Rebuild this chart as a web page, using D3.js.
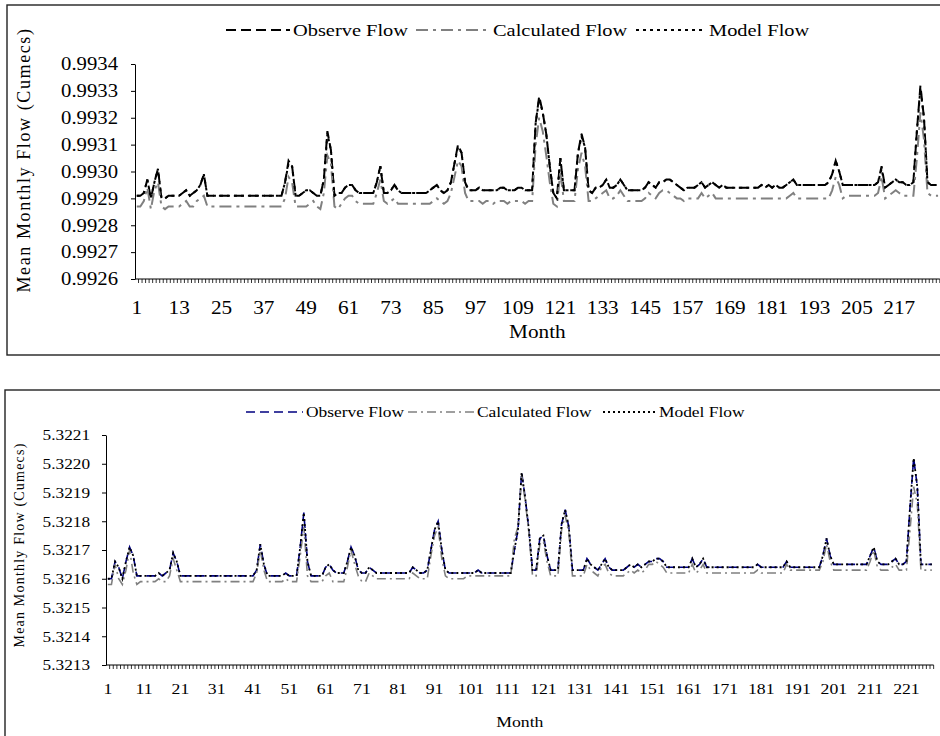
<!DOCTYPE html>
<html>
<head>
<meta charset="utf-8">
<script src="https://cdn.jsdelivr.net/npm/d3@7"></script>
<style>
  body { margin: 0; background: #fff; }
  svg { display: block; }
</style>
</head>
<body>
<svg id="chart" width="940" height="736"></svg>
<script>
// ---- data --------------------------------------------------------------
const months = d3.range(1, 229);   // 228 monthly categories

const topXTicks = [1, 13, 25, 37, 49, 61, 73, 85, 97, 109, 121, 133, 145, 157, 169, 181, 193, 205, 217];
const topYTicks = [0.9926, 0.9927, 0.9928, 0.9929, 0.9930, 0.9931, 0.9932, 0.9933, 0.9934];
const botXTicks = [1, 11, 21, 31, 41, 51, 61, 71, 81, 91, 101, 111, 121, 131, 141, 151, 161, 171, 181, 191, 201, 211, 221];
const botYTicks = [5.3213, 5.3214, 5.3215, 5.3216, 5.3217, 5.3218, 5.3219, 5.3220, 5.3221];

const legendNames = ["Observe Flow", "Calculated Flow", "Model Flow"];

// upper panel
const topObserve = [
  0.99291,0.99291,0.99292,0.99297,0.99290,0.99296,0.99301,0.99290,0.99290,0.99291,0.99291,0.99291,
  0.99291,0.99292,0.99293,0.99291,0.99292,0.99293,0.99295,0.99299,0.99291,0.99291,0.99291,0.99291,
  0.99291,0.99291,0.99291,0.99291,0.99291,0.99291,0.99291,0.99291,0.99291,0.99291,0.99291,0.99291,
  0.99291,0.99291,0.99291,0.99291,0.99291,0.99291,0.99296,0.99304,0.99302,0.99291,0.99291,0.99292,
  0.99293,0.99293,0.99292,0.99291,0.99291,0.99297,0.99315,0.99308,0.99291,0.99292,0.99292,0.99294,
  0.99295,0.99295,0.99293,0.99292,0.99292,0.99292,0.99292,0.99292,0.99296,0.99302,0.99292,0.99292,
  0.99293,0.99295,0.99293,0.99292,0.99292,0.99292,0.99292,0.99292,0.99292,0.99292,0.99292,0.99293,
  0.99294,0.99295,0.99293,0.99292,0.99293,0.99296,0.99303,0.99310,0.99307,0.99296,0.99293,0.99293,
  0.99293,0.99294,0.99293,0.99293,0.99293,0.99293,0.99293,0.99294,0.99294,0.99293,0.99293,0.99293,
  0.99294,0.99294,0.99293,0.99293,0.99293,0.99318,0.99328,0.99322,0.99314,0.99302,0.99292,0.99290,
  0.99305,0.99293,0.99293,0.99293,0.99293,0.99307,0.99314,0.99309,0.99293,0.99292,0.99294,0.99294,
  0.99295,0.99297,0.99294,0.99294,0.99295,0.99297,0.99295,0.99293,0.99293,0.99293,0.99293,0.99293,
  0.99294,0.99296,0.99295,0.99294,0.99296,0.99296,0.99297,0.99297,0.99296,0.99295,0.99294,0.99293,
  0.99294,0.99294,0.99294,0.99295,0.99296,0.99294,0.99295,0.99296,0.99295,0.99294,0.99295,0.99294,
  0.99294,0.99294,0.99294,0.99294,0.99294,0.99294,0.99294,0.99294,0.99294,0.99295,0.99294,0.99295,
  0.99294,0.99295,0.99294,0.99294,0.99295,0.99296,0.99297,0.99295,0.99295,0.99295,0.99295,0.99295,
  0.99295,0.99295,0.99295,0.99295,0.99296,0.99299,0.99304,0.99300,0.99295,0.99295,0.99295,0.99295,
  0.99295,0.99295,0.99295,0.99295,0.99295,0.99295,0.99296,0.99302,0.99294,0.99295,0.99296,0.99297,
  0.99296,0.99296,0.99295,0.99295,0.99296,0.99315,0.99332,0.99320,0.99296,0.99295,0.99295,0.99295
];
const topCalculated = [
  0.99287,0.99287,0.99289,0.99294,0.99286,0.99293,0.99296,0.99287,0.99286,0.99287,0.99287,0.99287,
  0.99287,0.99288,0.99289,0.99287,0.99287,0.99289,0.99290,0.99291,0.99287,0.99287,0.99287,0.99287,
  0.99287,0.99287,0.99287,0.99287,0.99287,0.99287,0.99287,0.99287,0.99287,0.99287,0.99287,0.99287,
  0.99287,0.99287,0.99287,0.99287,0.99287,0.99287,0.99290,0.99298,0.99296,0.99287,0.99287,0.99287,
  0.99287,0.99288,0.99289,0.99287,0.99286,0.99292,0.99306,0.99303,0.99287,0.99286,0.99288,0.99290,
  0.99291,0.99291,0.99289,0.99288,0.99288,0.99288,0.99288,0.99288,0.99292,0.99297,0.99289,0.99288,
  0.99289,0.99290,0.99288,0.99288,0.99288,0.99288,0.99288,0.99288,0.99288,0.99288,0.99288,0.99288,
  0.99289,0.99290,0.99289,0.99288,0.99289,0.99292,0.99298,0.99304,0.99302,0.99292,0.99289,0.99289,
  0.99289,0.99289,0.99288,0.99289,0.99289,0.99288,0.99289,0.99289,0.99289,0.99288,0.99289,0.99289,
  0.99289,0.99289,0.99288,0.99289,0.99289,0.99310,0.99320,0.99315,0.99306,0.99296,0.99288,0.99287,
  0.99300,0.99289,0.99289,0.99289,0.99289,0.99301,0.99307,0.99302,0.99289,0.99289,0.99290,0.99291,
  0.99292,0.99293,0.99290,0.99290,0.99291,0.99293,0.99291,0.99289,0.99289,0.99289,0.99289,0.99289,
  0.99290,0.99292,0.99291,0.99290,0.99292,0.99293,0.99293,0.99292,0.99291,0.99290,0.99290,0.99289,
  0.99290,0.99290,0.99290,0.99290,0.99292,0.99290,0.99291,0.99292,0.99290,0.99290,0.99290,0.99290,
  0.99290,0.99290,0.99290,0.99290,0.99290,0.99290,0.99290,0.99290,0.99290,0.99290,0.99290,0.99290,
  0.99290,0.99290,0.99290,0.99290,0.99290,0.99291,0.99292,0.99290,0.99290,0.99290,0.99290,0.99290,
  0.99290,0.99290,0.99290,0.99290,0.99290,0.99293,0.99298,0.99295,0.99290,0.99291,0.99291,0.99291,
  0.99291,0.99291,0.99291,0.99291,0.99291,0.99291,0.99292,0.99298,0.99290,0.99291,0.99292,0.99293,
  0.99292,0.99291,0.99291,0.99291,0.99291,0.99305,0.99322,0.99312,0.99292,0.99291,0.99291,0.99291
];
const topModel = [
  0.99291,0.99291,0.99292,0.99297,0.99290,0.99296,0.99301,0.99290,0.99290,0.99291,0.99291,0.99291,
  0.99291,0.99292,0.99293,0.99291,0.99292,0.99293,0.99295,0.99299,0.99291,0.99291,0.99291,0.99291,
  0.99291,0.99291,0.99291,0.99291,0.99291,0.99291,0.99291,0.99291,0.99291,0.99291,0.99291,0.99291,
  0.99291,0.99291,0.99291,0.99291,0.99291,0.99291,0.99296,0.99303,0.99302,0.99291,0.99291,0.99292,
  0.99293,0.99293,0.99292,0.99291,0.99291,0.99297,0.99314,0.99308,0.99291,0.99292,0.99292,0.99294,
  0.99295,0.99295,0.99293,0.99292,0.99292,0.99292,0.99292,0.99292,0.99296,0.99302,0.99292,0.99292,
  0.99293,0.99295,0.99293,0.99292,0.99292,0.99292,0.99292,0.99292,0.99292,0.99292,0.99292,0.99293,
  0.99294,0.99295,0.99293,0.99292,0.99293,0.99296,0.99303,0.99309,0.99307,0.99296,0.99293,0.99293,
  0.99293,0.99294,0.99293,0.99293,0.99293,0.99293,0.99293,0.99294,0.99294,0.99293,0.99293,0.99293,
  0.99294,0.99294,0.99293,0.99293,0.99293,0.99318,0.99327,0.99322,0.99314,0.99302,0.99292,0.99290,
  0.99305,0.99293,0.99293,0.99293,0.99293,0.99307,0.99313,0.99309,0.99293,0.99292,0.99294,0.99294,
  0.99295,0.99297,0.99294,0.99294,0.99295,0.99297,0.99295,0.99293,0.99293,0.99293,0.99293,0.99293,
  0.99294,0.99296,0.99295,0.99294,0.99296,0.99296,0.99297,0.99297,0.99296,0.99295,0.99294,0.99293,
  0.99294,0.99294,0.99294,0.99295,0.99296,0.99294,0.99295,0.99296,0.99295,0.99294,0.99295,0.99294,
  0.99294,0.99294,0.99294,0.99294,0.99294,0.99294,0.99294,0.99294,0.99294,0.99295,0.99294,0.99295,
  0.99294,0.99295,0.99294,0.99294,0.99295,0.99296,0.99297,0.99295,0.99295,0.99295,0.99295,0.99295,
  0.99295,0.99295,0.99295,0.99295,0.99296,0.99299,0.99304,0.99300,0.99295,0.99295,0.99295,0.99295,
  0.99295,0.99295,0.99295,0.99295,0.99295,0.99295,0.99296,0.99301,0.99294,0.99295,0.99296,0.99297,
  0.99296,0.99296,0.99295,0.99295,0.99296,0.99315,0.99331,0.99320,0.99296,0.99295,0.99295,0.99295
];

// lower panel
const botObserve = [
  5.32160,5.32160,5.32166,5.32164,5.32160,5.32166,5.32171,5.32168,5.32161,5.32161,5.32161,5.32161,
  5.32161,5.32161,5.32162,5.32161,5.32162,5.32163,5.32169,5.32166,5.32161,5.32161,5.32161,5.32161,
  5.32161,5.32161,5.32161,5.32161,5.32161,5.32161,5.32161,5.32161,5.32161,5.32161,5.32161,5.32161,
  5.32161,5.32161,5.32161,5.32161,5.32161,5.32163,5.32172,5.32165,5.32161,5.32161,5.32161,5.32161,
  5.32161,5.32162,5.32161,5.32161,5.32161,5.32171,5.32183,5.32166,5.32161,5.32161,5.32161,5.32161,
  5.32164,5.32165,5.32163,5.32162,5.32162,5.32162,5.32166,5.32171,5.32168,5.32163,5.32162,5.32162,
  5.32164,5.32163,5.32162,5.32162,5.32162,5.32162,5.32162,5.32162,5.32162,5.32162,5.32162,5.32162,
  5.32164,5.32163,5.32162,5.32162,5.32163,5.32170,5.32177,5.32180,5.32170,5.32163,5.32162,5.32162,
  5.32162,5.32162,5.32162,5.32162,5.32162,5.32162,5.32163,5.32162,5.32162,5.32162,5.32162,5.32162,
  5.32162,5.32162,5.32162,5.32162,5.32170,5.32177,5.32197,5.32188,5.32177,5.32163,5.32163,5.32174,
  5.32175,5.32168,5.32163,5.32163,5.32163,5.32179,5.32184,5.32178,5.32163,5.32163,5.32163,5.32163,
  5.32167,5.32165,5.32164,5.32163,5.32165,5.32167,5.32164,5.32163,5.32163,5.32163,5.32163,5.32164,
  5.32165,5.32164,5.32165,5.32164,5.32165,5.32166,5.32166,5.32167,5.32167,5.32166,5.32164,5.32164,
  5.32164,5.32164,5.32164,5.32164,5.32164,5.32167,5.32164,5.32165,5.32167,5.32164,5.32164,5.32164,
  5.32164,5.32164,5.32164,5.32164,5.32164,5.32164,5.32164,5.32164,5.32164,5.32164,5.32164,5.32165,
  5.32164,5.32164,5.32164,5.32164,5.32164,5.32164,5.32164,5.32166,5.32164,5.32164,5.32164,5.32164,
  5.32164,5.32164,5.32164,5.32164,5.32164,5.32168,5.32174,5.32168,5.32165,5.32165,5.32165,5.32165,
  5.32165,5.32165,5.32165,5.32165,5.32165,5.32165,5.32168,5.32171,5.32166,5.32165,5.32165,5.32165,
  5.32166,5.32167,5.32165,5.32165,5.32166,5.32185,5.32202,5.32192,5.32165,5.32165,5.32165,5.32165
];
const botCalculated = [
  5.32158,5.32158,5.32165,5.32160,5.32158,5.32163,5.32170,5.32162,5.32158,5.32159,5.32159,5.32159,
  5.32159,5.32159,5.32160,5.32159,5.32159,5.32161,5.32167,5.32163,5.32159,5.32159,5.32159,5.32159,
  5.32159,5.32159,5.32159,5.32159,5.32159,5.32159,5.32159,5.32159,5.32159,5.32159,5.32159,5.32159,
  5.32159,5.32159,5.32159,5.32159,5.32159,5.32162,5.32170,5.32163,5.32159,5.32159,5.32159,5.32159,
  5.32159,5.32160,5.32159,5.32159,5.32159,5.32168,5.32178,5.32161,5.32159,5.32159,5.32159,5.32159,
  5.32161,5.32162,5.32159,5.32159,5.32159,5.32159,5.32164,5.32170,5.32165,5.32161,5.32159,5.32159,
  5.32162,5.32161,5.32160,5.32160,5.32160,5.32160,5.32160,5.32160,5.32160,5.32160,5.32160,5.32160,
  5.32162,5.32161,5.32160,5.32160,5.32160,5.32168,5.32175,5.32178,5.32167,5.32161,5.32160,5.32160,
  5.32160,5.32160,5.32160,5.32161,5.32161,5.32161,5.32161,5.32161,5.32161,5.32161,5.32161,5.32161,
  5.32161,5.32161,5.32161,5.32161,5.32174,5.32178,5.32196,5.32187,5.32176,5.32161,5.32161,5.32172,
  5.32173,5.32166,5.32161,5.32161,5.32161,5.32177,5.32182,5.32176,5.32161,5.32161,5.32161,5.32161,
  5.32165,5.32163,5.32162,5.32161,5.32164,5.32165,5.32162,5.32161,5.32161,5.32161,5.32161,5.32162,
  5.32163,5.32162,5.32163,5.32162,5.32163,5.32165,5.32165,5.32166,5.32165,5.32164,5.32162,5.32162,
  5.32162,5.32162,5.32162,5.32162,5.32162,5.32165,5.32162,5.32163,5.32165,5.32162,5.32162,5.32162,
  5.32162,5.32162,5.32162,5.32162,5.32162,5.32162,5.32162,5.32162,5.32162,5.32162,5.32162,5.32163,
  5.32162,5.32162,5.32162,5.32162,5.32162,5.32162,5.32162,5.32165,5.32163,5.32163,5.32163,5.32163,
  5.32163,5.32163,5.32163,5.32163,5.32163,5.32166,5.32172,5.32166,5.32163,5.32163,5.32163,5.32163,
  5.32163,5.32163,5.32163,5.32163,5.32163,5.32163,5.32166,5.32170,5.32164,5.32163,5.32163,5.32163,
  5.32164,5.32165,5.32163,5.32163,5.32163,5.32177,5.32192,5.32186,5.32163,5.32163,5.32163,5.32163
];
const botModel = [
  5.32160,5.32160,5.32166,5.32164,5.32160,5.32166,5.32171,5.32168,5.32161,5.32161,5.32161,5.32161,
  5.32161,5.32161,5.32162,5.32161,5.32162,5.32163,5.32169,5.32166,5.32161,5.32161,5.32161,5.32161,
  5.32161,5.32161,5.32161,5.32161,5.32161,5.32161,5.32161,5.32161,5.32161,5.32161,5.32161,5.32161,
  5.32161,5.32161,5.32161,5.32161,5.32161,5.32163,5.32172,5.32165,5.32161,5.32161,5.32161,5.32161,
  5.32161,5.32162,5.32161,5.32161,5.32161,5.32171,5.32183,5.32166,5.32161,5.32161,5.32161,5.32161,
  5.32164,5.32165,5.32163,5.32162,5.32162,5.32162,5.32166,5.32171,5.32168,5.32163,5.32162,5.32162,
  5.32164,5.32163,5.32162,5.32162,5.32162,5.32162,5.32162,5.32162,5.32162,5.32162,5.32162,5.32162,
  5.32164,5.32163,5.32162,5.32162,5.32163,5.32170,5.32177,5.32180,5.32170,5.32163,5.32162,5.32162,
  5.32162,5.32162,5.32162,5.32162,5.32162,5.32162,5.32163,5.32162,5.32162,5.32162,5.32162,5.32162,
  5.32162,5.32162,5.32162,5.32162,5.32170,5.32177,5.32197,5.32188,5.32177,5.32163,5.32163,5.32174,
  5.32175,5.32168,5.32163,5.32163,5.32163,5.32179,5.32184,5.32178,5.32163,5.32163,5.32163,5.32163,
  5.32167,5.32165,5.32164,5.32163,5.32165,5.32167,5.32164,5.32163,5.32163,5.32163,5.32163,5.32164,
  5.32165,5.32164,5.32165,5.32164,5.32165,5.32166,5.32166,5.32167,5.32167,5.32166,5.32164,5.32164,
  5.32164,5.32164,5.32164,5.32164,5.32164,5.32167,5.32164,5.32165,5.32167,5.32164,5.32164,5.32164,
  5.32164,5.32164,5.32164,5.32164,5.32164,5.32164,5.32164,5.32164,5.32164,5.32164,5.32164,5.32165,
  5.32164,5.32164,5.32164,5.32164,5.32164,5.32164,5.32164,5.32166,5.32164,5.32164,5.32164,5.32164,
  5.32164,5.32164,5.32164,5.32164,5.32164,5.32168,5.32174,5.32168,5.32165,5.32165,5.32165,5.32165,
  5.32165,5.32165,5.32165,5.32165,5.32165,5.32165,5.32168,5.32171,5.32166,5.32165,5.32165,5.32165,
  5.32166,5.32167,5.32165,5.32165,5.32166,5.32185,5.32202,5.32192,5.32165,5.32165,5.32165,5.32165
];

// ---- drawing -----------------------------------------------------------
const FONT = "'Liberation Serif', 'Times New Roman', serif";
const svg = d3.select("#chart");

// the source picture is a little wider than tall, so text is widened to match
function stretch(sel, k) {
  sel.each(function () {
    const w = this.getComputedTextLength();
    d3.select(this).attr("textLength", w * k).attr("lengthAdjust", "spacingAndGlyphs");
  });
}

function drawPanel(p) {
  const g = svg.append("g");

  g.append("rect")
    .attr("x", p.box[0]).attr("y", p.box[1])
    .attr("width", p.box[2]).attr("height", p.box[3])
    .attr("fill", "none").attr("stroke", "#222").attr("stroke-width", 1.4);

  const x = d3.scaleBand()
    .domain(months)
    .range([p.x0, p.x0 + months.length * p.step]);
  const y = d3.scaleLinear()
    .domain([p.yTicks[0], p.yTicks[p.yTicks.length - 1]])
    .range([p.yBottom, p.yTop]);

  // y axis
  const ya = g.append("g")
    .attr("transform", "translate(" + p.x0 + ",0)")
    .call(d3.axisLeft(y).tickValues(p.yTicks).tickFormat(d3.format(".4f"))
      .tickSize(4).tickSizeOuter(0).tickPadding(p.yPad));
  ya.attr("font-family", FONT).attr("font-size", p.tickFont);
  ya.selectAll("line, path").attr("stroke", "#000");
  ya.selectAll("text").attr("fill", "#000").call(stretch, 1.15);

  // x axis: line, a tick between every month, labels at chosen months
  g.append("line")
    .attr("x1", p.x0).attr("x2", x.range()[1])
    .attr("y1", p.yBottom).attr("y2", p.yBottom)
    .attr("stroke", "#000");
  g.selectAll(".minor")
    .data(months)
    .join("line")
    .attr("class", "minor")
    .attr("x1", d => x(d) + x.bandwidth()).attr("x2", d => x(d) + x.bandwidth())
    .attr("y1", p.yBottom).attr("y2", p.yBottom + 4)
    .attr("stroke", "#000").attr("stroke-width", 0.8);

  const xa = g.append("g")
    .attr("transform", "translate(0," + p.yBottom + ")")
    .call(d3.axisBottom(x).tickValues(p.xTicks).tickSize(0).tickPadding(p.xPad));
  xa.select(".domain").remove();
  xa.attr("font-family", FONT).attr("font-size", p.xFont);
  xa.selectAll("text").attr("fill", "#000").call(stretch, 1.18);

  // axis titles
  g.append("text")
    .attr("x", (p.x0 + x.range()[1]) / 2).attr("y", p.monthY)
    .attr("text-anchor", "middle")
    .attr("font-family", FONT).attr("font-size", p.xFont)
    .text("Month").call(stretch, 1.18);

  g.append("text")
    .attr("transform", "translate(" + p.titleX + "," + p.titleY + ") rotate(-90)")
    .attr("text-anchor", "middle")
    .attr("font-family", FONT).attr("font-size", p.titleFont)
    .attr("letter-spacing", p.titleSpacing)
    .attr("font-weight", p.titleWeight)
    .text("Mean Monthly Flow (Cumecs)");

  // series
  const line = d3.line()
    .x((d, i) => x(months[i]) + x.bandwidth() / 2)
    .y(d => y(d));

  p.series.forEach(s => {
    g.append("path")
      .datum(s.values)
      .attr("fill", "none")
      .attr("stroke", s.color)
      .attr("stroke-width", s.width)
      .attr("stroke-dasharray", s.dash)
      .attr("d", line);
  });

  // legend
  p.series.forEach((s, i) => {
    const L = p.legend[i];
    g.append("line")
      .attr("x1", L[0]).attr("x2", L[1])
      .attr("y1", p.legendY).attr("y2", p.legendY)
      .attr("stroke", s.color).attr("stroke-width", s.width)
      .attr("stroke-dasharray", s.dash);
    g.append("text")
      .attr("x", L[1] + 3).attr("y", p.legendY)
      .attr("dy", "0.33em")
      .attr("font-family", FONT).attr("font-size", p.legendFont)
      .text(legendNames[i])
      .call(stretch, 1.2);
  });
}

drawPanel({
  box: [7, 5, 960, 350],
  x0: 135, step: 3.53,
  yTop: 64, yBottom: 279,
  yTicks: topYTicks, xTicks: topXTicks,
  tickFont: 18, xFont: 18, yPad: 13, xPad: 22,
  monthY: 338,
  titleX: 30, titleY: 160, titleFont: 18, titleSpacing: 1.6, titleWeight: "normal",
  legendY: 30, legendFont: 17,
  legend: [[226, 290], [416, 490], [636, 706]],
  series: [
    { values: topObserve, color: "#000", width: 2, dash: "10,5" },
    { values: topCalculated, color: "#808080", width: 2, dash: "12,5,3,5" },
    { values: topModel, color: "#000", width: 2, dash: "3,4" }
  ]
});

drawPanel({
  box: [5, 390, 960, 360],
  x0: 106, step: 3.63,
  yTop: 435, yBottom: 665,
  yTicks: botYTicks, xTicks: botXTicks,
  tickFont: 15, xFont: 15, yPad: 12, xPad: 18,
  monthY: 727,
  titleX: 24, titleY: 545, titleFont: 14, titleSpacing: 1.2, titleWeight: "normal",
  legendY: 412, legendFont: 14.5,
  legend: [[246, 303], [408, 474], [603, 656]],
  series: [
    { values: botObserve, color: "#000080", width: 1.6, dash: "9,5" },
    { values: botCalculated, color: "#808080", width: 1.6, dash: "9,4,2,4" },
    { values: botModel, color: "#000", width: 1.8, dash: "2,3" }
  ]
});
</script>
</body>
</html>
